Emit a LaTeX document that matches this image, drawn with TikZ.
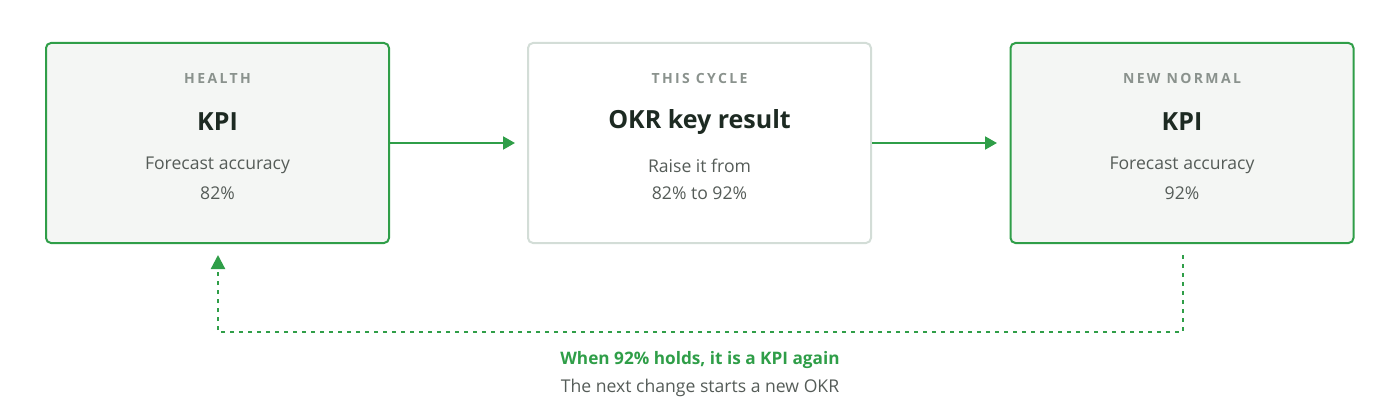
\documentclass[tikz,border=0pt]{standalone}
\usepackage{fontspec}
\setmainfont{Open Sans}
\usetikzlibrary{arrows.meta,positioning}
\definecolor{kgreen}{HTML}{2F9E48}
\definecolor{kfill}{HTML}{F4F6F4}
\definecolor{kgrayb}{HTML}{D3DDD7}
\definecolor{klabel}{HTML}{8A928D}
\definecolor{kbody}{HTML}{555C58}
\definecolor{ktitle}{HTML}{1D2A22}
\newfontfamily\spacedfont[LetterSpace=17]{Open Sans}
\tikzset{
  card/.style={draw=kgreen, line width=2pt, fill=kfill, rounded corners=5pt, minimum width=343pt, minimum height=200pt, inner sep=0pt},
  okrcard/.style={card, draw=kgrayb, fill=white},
  kicker/.style={text=klabel, font=\spacedfont\fontsize{14}{16}\selectfont\bfseries, inner sep=0pt},
  ttl/.style={text=ktitle, font=\fontsize{25}{29}\selectfont\bfseries, inner sep=0pt},
  body/.style={text=kbody, font=\fontsize{17.6}{20}\selectfont, inner sep=0pt},
  flow/.style={draw=kgreen, line width=2pt, -{Triangle[length=12pt,width=13pt]}},
  loopend/.style={draw=kgreen, line width=2.2pt, -{Triangle[length=14pt,width=14pt]}, dash pattern=on 4pt off 5pt},
  note/.style={text=kgreen, font=\fontsize{17.2}{20}\selectfont\bfseries, inner sep=0pt},
}
\begin{document}
\begin{tikzpicture}[x=1pt,y=-1pt]
\useasboundingbox (0,0) rectangle (1400,420);
% boxes
\node[card] (b1) at (217.5,143) {};
\node[okrcard] (b2) at (699.5,143) {};
\node[card] (b3) at (1182,143) {};
% texts
\node[kicker] (c1) at (217.5,78) {HEALTH};
\node[ttl] (t1) at (217.5,122) {KPI};
\node[body] (d1) at (217.5,165.5) {Forecast accuracy};
\node[body] (e1) at (217.5,193) {82\%};
\node[kicker] (c2) at (699.5,78) {THIS CYCLE};
\node[ttl] (t2) at (699.5,122) {OKR key result};
\node[body] (d2) at (699.5,165.5) {Raise it from};
\node[body] (e2) at (699.5,193) {82\% to 92\%};
\node[kicker] (c3) at (1182,78) {NEW NORMAL};
\node[ttl] (t3) at (1182,122) {KPI};
\node[body] (d3) at (1182,165.5) {Forecast accuracy};
\node[body] (e3) at (1182,193) {92\%};
% flow arrows
\coordinate (a1) at (515,143);
\coordinate (a2) at (997,143);
\draw[flow] (b1.east) -- (a1);
\draw[flow] (b2.east) -- (a2);
% loop back
\coordinate (l0) at (1183,255);
\coordinate (l1) at (1183,332);
\coordinate (l2) at (218,332);
\coordinate (l3) at (218,255);
\draw[loopend] (l0) -- (l1) -- (l2) -- (l3);
% notes
\node[note] (n1) at (700,360) {When 92\% holds, it is a KPI again};
\node[body] (n2) at (700,388) {The next change starts a new OKR};
\end{tikzpicture}
\end{document}
